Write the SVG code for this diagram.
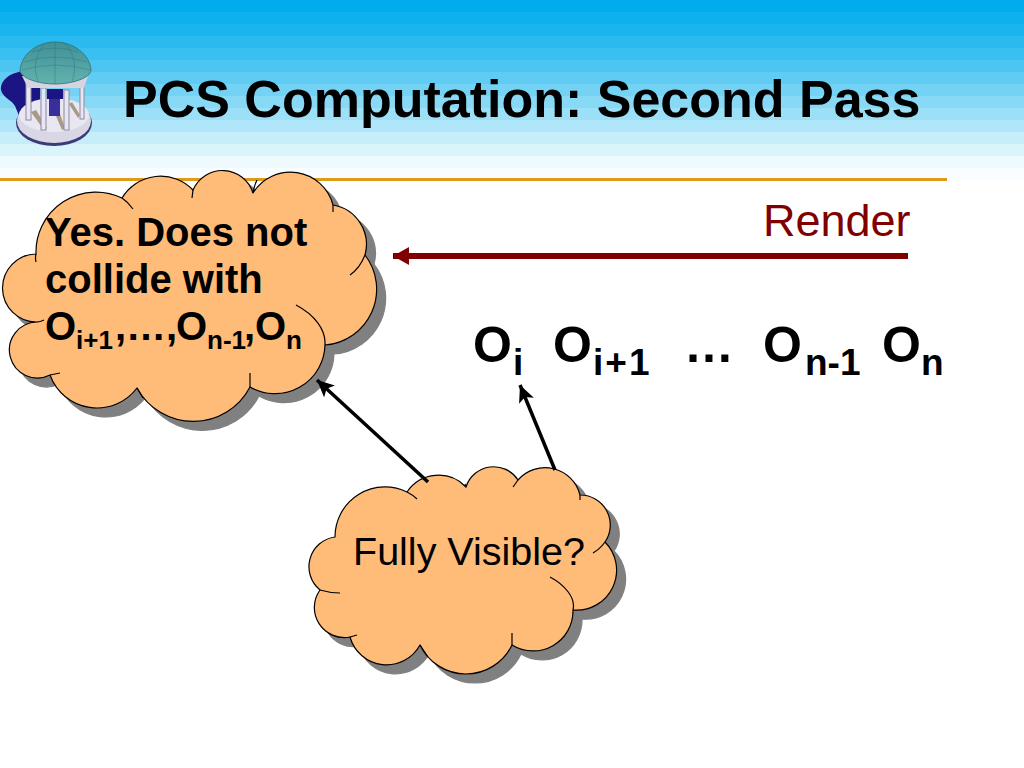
<svg xmlns="http://www.w3.org/2000/svg" width="1024" height="768" viewBox="0 0 1024 768">
<style>
.sans{font-family:"Liberation Sans",Arial,sans-serif}
.b{font-weight:700;fill:#000}
.cl{fill:#FFBB78;stroke:#000;stroke-width:1.2;stroke-linejoin:round}
.hook{fill:none;stroke:#000;stroke-width:1.2}
.sh{fill:#808080;stroke:#808080;stroke-width:1.2}
.col{fill:#E8E6F2;stroke:#8C8AA0;stroke-width:1}
.tile{fill:none;stroke:#2F7078;stroke-width:.6;opacity:.7}
.step{fill:#A89A88}
</style>
<defs>
<linearGradient id="dome" x1="0" y1="0" x2="0" y2="1"><stop offset="0" stop-color="#3F8F96"/><stop offset="1" stop-color="#62B3AE"/></linearGradient>
<marker id="ah" markerUnits="userSpaceOnUse" markerWidth="18" markerHeight="16" refX="17" refY="8" orient="auto"><path d="M0,0L17,8L0,16L4,8Z" fill="#000"/></marker>
<marker id="ar" markerUnits="userSpaceOnUse" markerWidth="18" markerHeight="20" refX="16" refY="10" orient="auto"><path d="M0,1L16,10L0,19Z" fill="#800000"/></marker>
<path id="c1" d="M36,254A60,60 0 0 1 122,198A45,45 0 0 1 193,190A32,32 0 0 1 253,193A44,44 0 0 1 333,205A40,40 0 0 1 365,255A56,56 0 0 1 325,345A50,50 0 0 1 250,387A64,64 0 0 1 137,388A50,50 0 0 1 50,375A28,28 0 1 1 37,322A34,34 0 0 1 36,254Z"/>
<path id="c2" d="M335,537A50,50 0 0 1 407,492A38,38 0 0 1 466,487A29,29 0 0 1 518,480A36,36 0 0 1 580,495A30,30 0 0 1 605,542A40,40 0 0 1 573,610A40,40 0 0 1 512,645A51,51 0 0 1 420,645A38,38 0 0 1 350,637A30,30 0 0 1 320,590A30,30 0 0 1 335,537Z"/>
</defs>
<g id="banner">
<rect width="1024" height="12" y="0" fill="#00ACEC"/>
<rect width="1024" height="12" y="12" fill="#0CB1EE"/>
<rect width="1024" height="12" y="24" fill="#1AB5EF"/>
<rect width="1024" height="12" y="36" fill="#2ABAF0"/>
<rect width="1024" height="12" y="48" fill="#3ABFF1"/>
<rect width="1024" height="12" y="60" fill="#4CC5F2"/>
<rect width="1024" height="12" y="72" fill="#60CBF3"/>
<rect width="1024" height="12" y="84" fill="#74D2F5"/>
<rect width="1024" height="12" y="96" fill="#88D9F6"/>
<rect width="1024" height="12" y="108" fill="#9CE0F7"/>
<rect width="1024" height="12" y="120" fill="#B0E6F9"/>
<rect width="1024" height="12" y="132" fill="#C6EDFA"/>
<rect width="1024" height="12" y="144" fill="#DAF4FC"/>
<rect width="1024" height="12" y="156" fill="#EEFAFE"/>
<rect width="1024" height="12" y="168" fill="#FAFDFF"/>
<rect width="947" height="3" y="178" fill="#E09A1A"/>
</g>
<g id="temple">
<path d="M26,71C8,72 0,82 1,90C3,98 12,100 15,106L20,118L40,108L40,80Z" fill="#1B1583"/>
<ellipse cx="54" cy="123" rx="38" ry="23" fill="#3C3A78"/>
<ellipse cx="54" cy="121" rx="37" ry="22" fill="#D9D6E6"/>
<ellipse cx="54" cy="115" rx="35" ry="17" fill="#E9E7F1"/>
<path class="step" d="M31,112L44,130L47,128L36,110ZM56,116L62,130L65,128L60,114ZM69,104L78,118L80,115L72,102Z"/>
<rect x="49" y="97" width="11" height="19" fill="#3A2E9C"/>
<rect x="47" y="89" width="16" height="10" fill="#1B1583"/>
<rect x="26" y="83" width="5" height="37" class="col"/>
<rect x="41" y="88" width="5" height="42" class="col"/>
<rect x="64" y="90" width="5" height="40" class="col"/>
<rect x="80" y="84" width="4" height="35" class="col"/>
<path d="M22,76L88,76L84,88L28,88Z" fill="#D6D4E0"/>
<path d="M20,70C22,53 38,42 55,42C74,42 90,55 91,70C91,78 72,84 55,84C38,84 20,78 20,70Z" fill="url(#dome)" stroke="#2F6F78" stroke-width=".8"/>
<path class="tile" d="M24,62Q55,52 87,62M22,70Q55,60 90,70M32,52Q55,44 78,52M38,82Q30,60 45,43M72,82Q80,60 65,43M55,84V42"/>
</g>
<g id="title"><text class="sans b" x="123" y="117" font-size="52">PCS Computation: Second Pass</text></g>
<g id="cloud-yes">
<use href="#c1" class="sh" transform="translate(9,9)"/>
<use href="#c1" class="cl"/>
<path class="hook" d="M36,254Q35,258 36,262M122,198Q128,202 133,209M193,190L192,198M253,193Q254,186 257,180M333,205L333,212M365,255Q360,268 350,275M37,322Q40,322 44,320M296,305C315,315 326,330 325,345M250,387L250,373M137,388L143,398M50,375L60,373"/>
<text class="sans b" x="45" y="246" font-size="40">Yes. Does not</text>
<text class="sans b" x="45" y="293" font-size="40">collide with</text>
<text class="sans b" y="340" font-size="40"><tspan x="45">O</tspan><tspan x="76" font-size="26" dy="9">i+1</tspan><tspan x="115" dy="-9">,…,</tspan><tspan x="176">O</tspan><tspan x="207" font-size="26" dy="9">n-1</tspan><tspan x="244" dy="-9">,</tspan><tspan x="255">O</tspan><tspan x="286" font-size="26" dy="9">n</tspan></text>
</g>
<g id="cloud-visible">
<use href="#c2" class="sh" transform="translate(9,9)"/>
<use href="#c2" class="cl"/>
<path class="hook" d="M407,492Q413,495 417,499M466,487L465,484M518,480L513,487M580,495L580,500M605,542Q600,549 593,553M320,590Q330,593 340,593M550,577C565,585 576,598 573,610M512,645L512,633M420,645L428,657M350,637L357,635"/>
<text class="sans" x="353" y="565" font-size="39.5" fill="#000">Fully Visible?</text>
</g>
<g id="connectors">
<line x1="908" y1="256" x2="393" y2="256" stroke="#800000" stroke-width="6" marker-end="url(#ar)"/>
<line x1="428" y1="482" x2="317" y2="380" stroke="#000" stroke-width="3.5" marker-end="url(#ah)"/>
<line x1="555" y1="470" x2="520" y2="385" stroke="#000" stroke-width="3.5" marker-end="url(#ah)"/>
</g>
<g id="render-label"><text class="sans" x="763" y="236" font-size="45" fill="#800000">Render</text></g>
<g id="objects">
<text class="sans b" x="473" y="362" font-size="50">O<tspan x="513" font-size="37" dy="13">i</tspan></text>
<text class="sans b" x="553" y="362" font-size="50">O<tspan x="593" font-size="37" dy="13" letter-spacing="2">i+1</tspan></text>
<text class="sans b" x="684" y="362" font-size="50">…</text>
<text class="sans b" x="763" y="362" font-size="50">O<tspan x="805" font-size="37" dy="13">n-1</tspan></text>
<text class="sans b" x="882" y="362" font-size="50">O<tspan x="921" font-size="37" dy="13">n</tspan></text>
</g>
</svg>
